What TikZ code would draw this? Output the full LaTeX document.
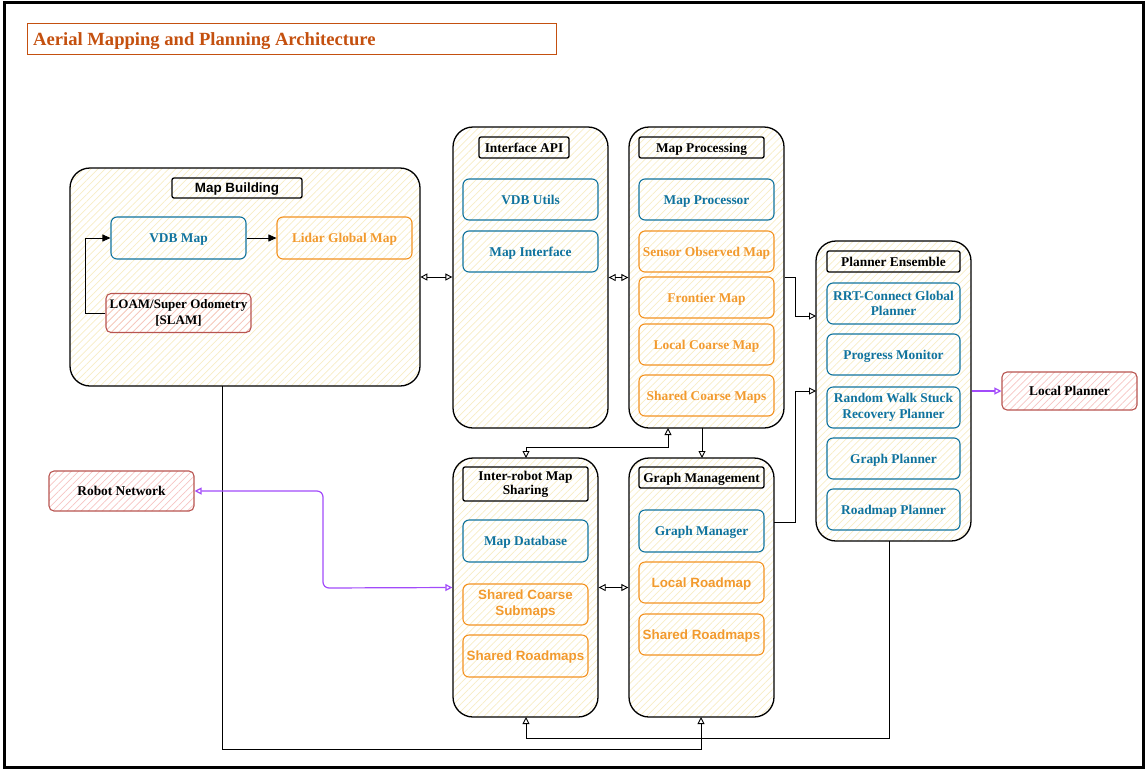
\documentclass[tikz,border=0pt]{standalone}
\usepackage{fontspec}
\setmainfont{Liberation Serif}
\newfontfamily\sansf{Liberation Sans}
\usetikzlibrary{arrows.meta,patterns.meta}
\definecolor{ttl}{HTML}{C4500F}
\definecolor{bluec}{HTML}{10739E}
\definecolor{orangec}{HTML}{F29A2E}
\definecolor{orangeln}{HTML}{F39220}
\definecolor{redln}{HTML}{B85450}
\definecolor{redhatch}{HTML}{F6C4C2}
\definecolor{yelhatch}{HTML}{F7ECC4}
\definecolor{purp}{HTML}{A24BFA}
\tikzset{
  mlbl/.style={font=\fontsize{13.4}{15.5}\selectfont\bfseries, align=center},
  lbl/.style={mlbl, text height=9.5pt, text depth=0pt},
  container/.style={draw=black, line width=1.3pt, rounded corners=20pt,
    pattern={Lines[angle=45,distance=5pt,line width=0.7pt]}, pattern color=yelhatch,
    minimum width=#1, inner sep=0pt},
  header/.style={draw=black, line width=1.3pt, rounded corners=2pt, inner sep=0pt},
  bluebox/.style={draw=bluec, line width=1.1pt, rounded corners=6pt, text=bluec,
    minimum width=#1, minimum height=41pt, inner sep=0pt},
  orbox/.style={draw=orangeln, line width=1.1pt, rounded corners=6pt, text=orangec,
    minimum width=#1, minimum height=41pt, inner sep=0pt},
  redbox/.style={draw=redln, line width=1.1pt, rounded corners=5pt, text=black,
    pattern={Lines[angle=45,distance=5pt,line width=0.7pt]}, pattern color=redhatch,
    minimum width=#1, inner sep=0pt},
  arr/.style={line width=0.9pt, -{Triangle[open,length=7pt,width=7pt]}},
  biarr/.style={line width=0.9pt, {Triangle[open,length=7pt,width=7pt]}-{Triangle[open,length=7pt,width=7pt]}},
  farr/.style={line width=0.9pt, -{Triangle[length=8pt,width=7pt]}},
  parr/.style={draw=purp, line width=1.2pt, -{Triangle[open,length=7pt,width=7pt]}},
  pbiarr/.style={draw=purp, line width=1.2pt, rounded corners=6pt,
    {Triangle[open,length=7pt,width=7pt]}-{Triangle[open,length=7pt,width=7pt]}},
}
\begin{document}
\begin{tikzpicture}[x=1pt,y=-1pt]
\useasboundingbox (0,0) rectangle (1145,769);
% outer frame
\draw[line width=3pt] (4.5,2.5) rectangle (1143.5,767);

% title
\node[draw=ttl, line width=1pt, minimum width=529pt, minimum height=31pt, inner sep=0pt] (title) at (291.5,38.5) {};
\node[anchor=base west, text=ttl, font=\fontsize{18.6}{20}\selectfont\bfseries, inner sep=0pt] (titletext) at (33,45) {Aerial Mapping and Planning Architecture};

% Map Building
\node[container=350pt, minimum height=218pt] (mb) at (245,277) {};
\node[header, lbl, minimum width=130pt, minimum height=20pt, font=\sansf\fontsize{13.4}{15}\selectfont\bfseries] (mbh) at (237,188) {Map Building};
\node[bluebox=135pt, lbl, minimum height=42pt] (vdb) at (178.5,238) {VDB Map};
\node[orbox=135pt, lbl, minimum height=42pt] (lidar) at (344.5,238) {Lidar Global Map};
\node[redbox=145pt, mlbl, minimum height=39pt, font=\fontsize{13}{15.5}\selectfont\bfseries] (loam) at (178.5,313) {LOAM/Super Odometry\\{}[SLAM]};

% Interface API
\node[container=155pt, minimum height=301pt] (iapi) at (530.5,277.5) {};
\node[header, lbl, minimum width=90pt, minimum height=21pt] (iapih) at (524,147.5) {Interface API};
\node[bluebox=135pt, lbl] (vdbu) at (530.5,199.5) {VDB Utils};
\node[bluebox=135pt, lbl] (mapi) at (530.5,251.5) {Map Interface};

% Map Processing
\node[container=155pt, minimum height=301pt] (mp) at (706.5,277.5) {};
\node[header, lbl, minimum width=125pt, minimum height=21pt] (mph) at (701.5,147.5) {Map Processing};
\node[bluebox=135pt, lbl] (mproc) at (706.5,199.5) {Map Processor};
\node[orbox=135pt, lbl] (som) at (706.5,251.5) {Sensor Observed Map};
\node[orbox=135pt, lbl] (front) at (706.5,297.5) {Frontier Map};
\node[orbox=135pt, lbl] (lcm) at (706.5,344.5) {Local Coarse Map};
\node[orbox=135pt, lbl] (scm) at (706.5,395.5) {Shared Coarse Maps};

% Planner Ensemble
\node[container=155pt, minimum height=300pt] (pe) at (893.5,391) {};
\node[header, lbl, minimum width=133pt, minimum height=21pt] (peh) at (893.5,261.5) {Planner Ensemble};
\node[bluebox=133pt, mlbl] (rrt) at (893.5,303.5) {RRT-Connect Global\\Planner};
\node[bluebox=133pt, lbl] (prog) at (893.5,354.5) {Progress Monitor};
\node[bluebox=133pt, mlbl] (rws) at (893.5,407.5) {Random Walk Stuck\\Recovery Planner};
\node[bluebox=133pt, lbl] (gp) at (893.5,458.5) {Graph Planner};
\node[bluebox=133pt, lbl] (rp) at (893.5,509.5) {Roadmap Planner};

% Local Planner
\node[redbox=135pt, lbl, minimum height=38pt] (lp) at (1069.5,391) {Local Planner};

% Inter-robot Map Sharing
\node[container=145pt, minimum height=259pt] (ir) at (525.5,587.5) {};
\node[header, mlbl, minimum width=125pt, minimum height=34pt, font=\fontsize{13.4}{14}\selectfont\bfseries] (irh) at (525.5,484) {Inter-robot Map\\Sharing};
\node[bluebox=125pt, lbl, minimum height=42pt] (mdb) at (525.5,541) {Map Database};
\node[orbox=125pt, mlbl, font=\sansf\fontsize{13.4}{16}\selectfont\bfseries] (scs) at (525.5,604.5) {Shared Coarse\\Submaps};
\node[orbox=125pt, lbl, minimum height=42pt, font=\sansf\fontsize{13.4}{15}\selectfont\bfseries] (srm1) at (525.5,656) {Shared Roadmaps};

% Graph Management
\node[container=145pt, minimum height=259pt] (gm) at (701.5,587.5) {};
\node[header, lbl, minimum width=125pt, minimum height=21pt] (gmh) at (701.5,477.5) {Graph Management};
\node[bluebox=125pt, lbl, minimum height=42pt] (gman) at (701.5,531) {Graph Manager};
\node[orbox=125pt, lbl, font=\sansf\fontsize{13.4}{15}\selectfont\bfseries] (lrm) at (701.5,582.5) {Local Roadmap};
\node[orbox=125pt, lbl, font=\sansf\fontsize{13.4}{15}\selectfont\bfseries] (srm2) at (701.5,634.5) {Shared Roadmaps};

% Robot Network
\node[redbox=145pt, lbl, minimum height=40pt] (rn) at (121.5,491) {Robot Network};

% attachment points on container borders
\coordinate (pe-in1) at (816,316);
\coordinate (pe-in2) at (816,391);
\coordinate (gm-out) at (774,522);
\coordinate (mp-s1) at (668,428);
\coordinate (mp-s2) at (702,428);
\coordinate (gm-n) at (702,458);
\coordinate (ir-n) at (526,458);
\coordinate (ir-s) at (526,717);
\coordinate (gm-s) at (701,717);
\coordinate (mb-s) at (222,386);
\coordinate (pe-s) at (889,541);

% connectors inside Map Building
\draw[farr] (loam.west) -- ++(-20,0) |- (vdb.west);
\draw[farr] (vdb.east) -- (lidar.west);

% container links
\draw[biarr] (mb.east) -- (mb.east -| iapi.west);
\draw[biarr] (iapi.east) -- (iapi.east -| mp.west);
\draw[arr] (mp.east) -- ++(11,0) |- (pe-in1);
\draw[arr] (gm-out) -- ++(21,0) |- (pe-in2);
\draw[biarr] (ir-n) -- ++(0,-11) -| (mp-s1);
\draw[arr] (mp-s2) -- (gm-n);
\draw[biarr] (ir.east) -- (ir.east -| gm.west);
\draw[arr] (mb-s) -- (222,749) -| (gm-s);
\draw[arr] (pe-s) -- (889,738) -| (ir-s);

% network links
\draw[parr] (pe.east) -- (lp.west);
\draw[pbiarr] (rn.east) -- (323,491) -- (323,588) -- (ir.west);
\end{tikzpicture}
\end{document}
